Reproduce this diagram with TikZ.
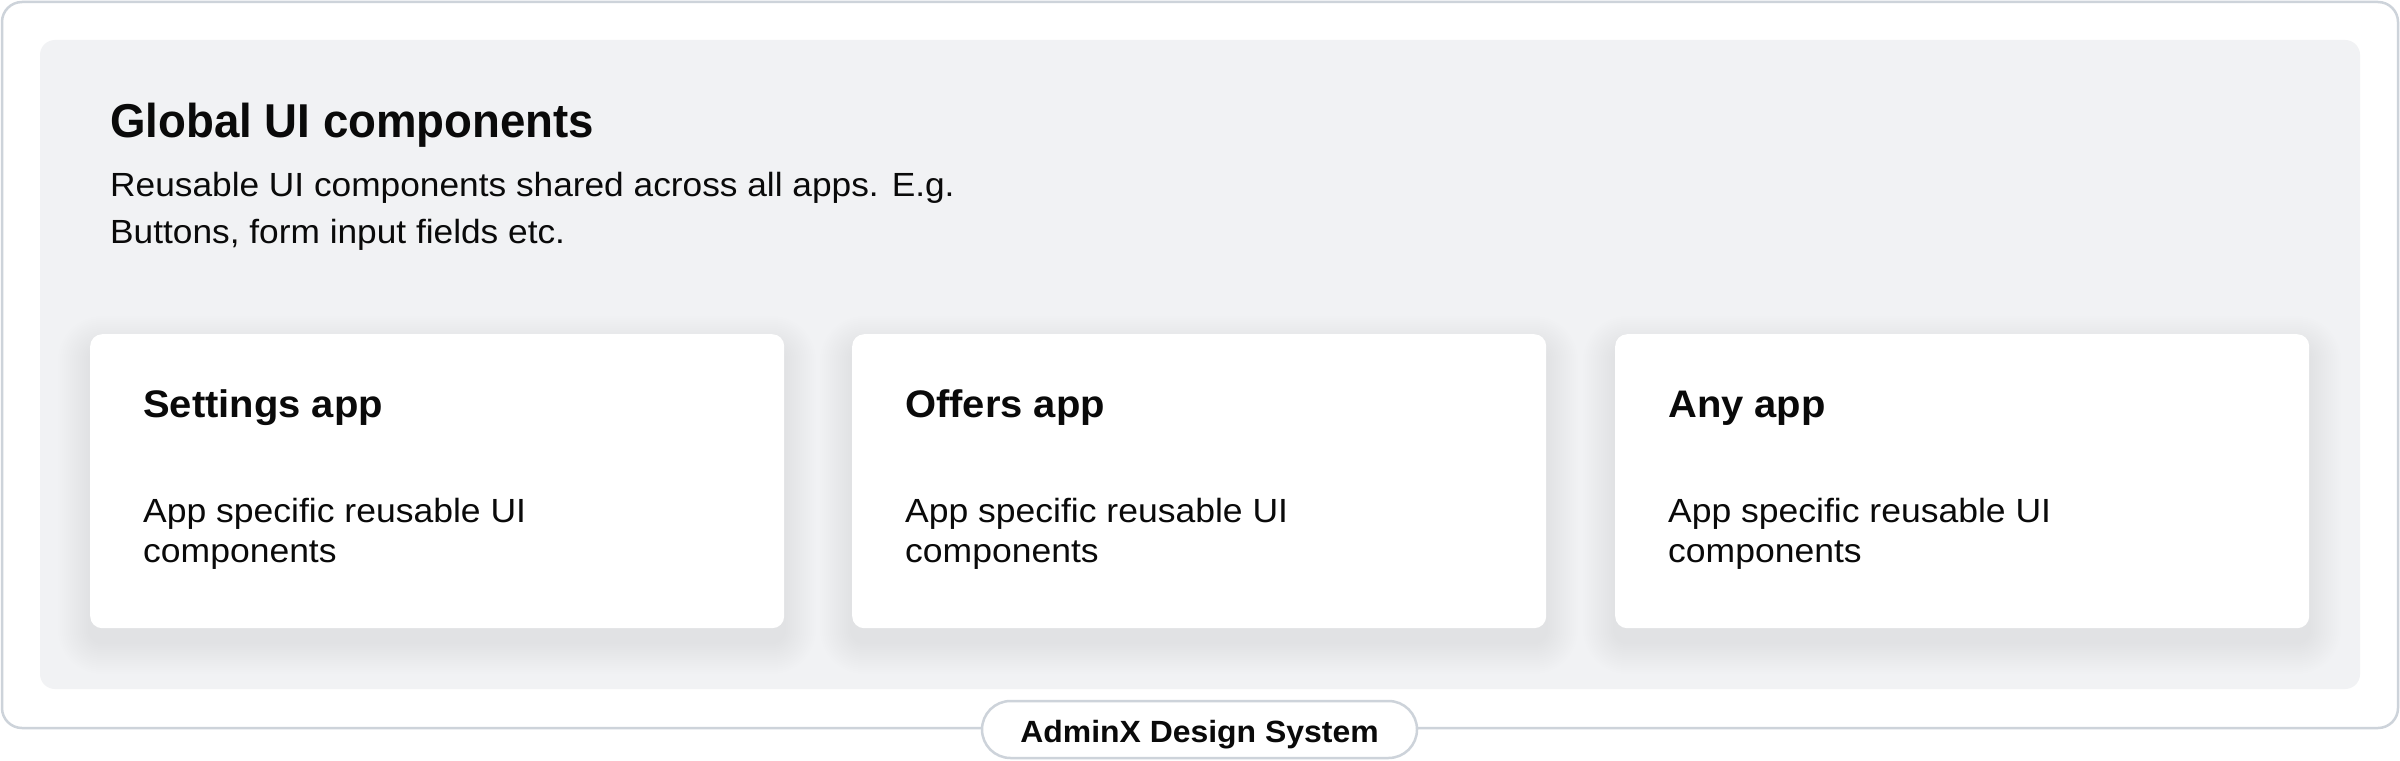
\documentclass[tikz,border=0pt]{standalone}
\usepackage{fontspec}
\setmainfont{Liberation Sans}
\newfontfamily\ftitle[FakeStretch=0.96]{Liberation Sans}
\newfontfamily\fhead[FakeStretch=1.04]{Liberation Sans}
\newfontfamily\fbody[FakeStretch=1.06]{Liberation Sans}
\newfontfamily\fsub[FakeStretch=1.053]{Liberation Sans}
\usetikzlibrary{calc}
\definecolor{panelgray}{HTML}{F1F2F4}
\definecolor{bordergray}{HTML}{CDD3DA}
\definecolor{ink}{HTML}{0A0A0A}
\tikzset{
  frame/.style={draw=bordergray, line width=2.5pt, rounded corners=20pt, fill=white, inner sep=0pt},
  panel/.style={fill=panelgray, rounded corners=15pt, inner sep=0pt},
  card/.style={fill=white, rounded corners=12pt, inner sep=0pt, minimum width=694pt, minimum height=294pt, anchor=north west},
  pill/.style={draw=bordergray, line width=2.5pt, fill=white, rounded corners=28.5pt, minimum width=435pt, minimum height=57pt, inner sep=0pt, text height=25pt, text depth=0pt, text=ink, font=\fhead\bfseries\fontsize{30.7}{33}\selectfont},
  titletext/.style={anchor=base west, inner sep=0pt, text=ink, font=\ftitle\bfseries\fontsize{47.5}{50}\selectfont},
  subtext/.style={anchor=base west, inner sep=0pt, text=ink, font=\fsub\fontsize{33.5}{36}\selectfont},
  headtext/.style={anchor=base west, inner sep=0pt, text=ink, font=\fhead\bfseries\fontsize{38.4}{40}\selectfont},
  bodytext/.style={anchor=base west, inner sep=0pt, text=ink, font=\fbody\fontsize{33.5}{36}\selectfont},
}
\begin{document}
\begin{tikzpicture}[x=1pt,y=-1pt]
\useasboundingbox (0,0) rectangle (2400,760);
% outer frame
\node[frame, minimum width=2396pt, minimum height=726pt] (outer) at (1200,365) {};
% grey panel
\node[panel, minimum width=2320pt, minimum height=649pt] (panel) at (1200,364.5) {};
% title and subtitle
\node[titletext] (title) at (110,137) {Global UI components};
\node[subtext] (sub1) at (110,196) {Reusable UI components shared across all apps. E.g.};
\node[subtext] (sub2) at (110,243) {Buttons, form input fields etc.};
% card shadows
\foreach \cx in {90,852,1615}{
  \foreach \i in {1,...,16}{
    \pgfmathsetmacro\rr{12+2*\i}
    \fill[black, opacity=0.0032, rounded corners=\rr pt]
      (\cx-2*\i, 334-2*\i+14) rectangle (\cx+694+2*\i, 628+2*\i+14);
  }
}
% cards
\node[card] (c1) at (90,334) {};
\node[card] (c2) at (852,334) {};
\node[card] (c3) at (1615,334) {};
\foreach \c/\t in {c1/Settings app, c2/Offers app, c3/Any app}{
  \node[headtext] (\c h) at ($(\c.north west)+(53,83)$) {\t};
  \node[bodytext] (\c b1) at ($(\c.north west)+(53,188)$) {App specific reusable UI};
  \node[bodytext] (\c b2) at ($(\c.north west)+(53,228)$) {components};
}
% label pill
\node[pill] (pill) at (1199.5,729.5) {AdminX Design System};
\end{tikzpicture}
\end{document}
